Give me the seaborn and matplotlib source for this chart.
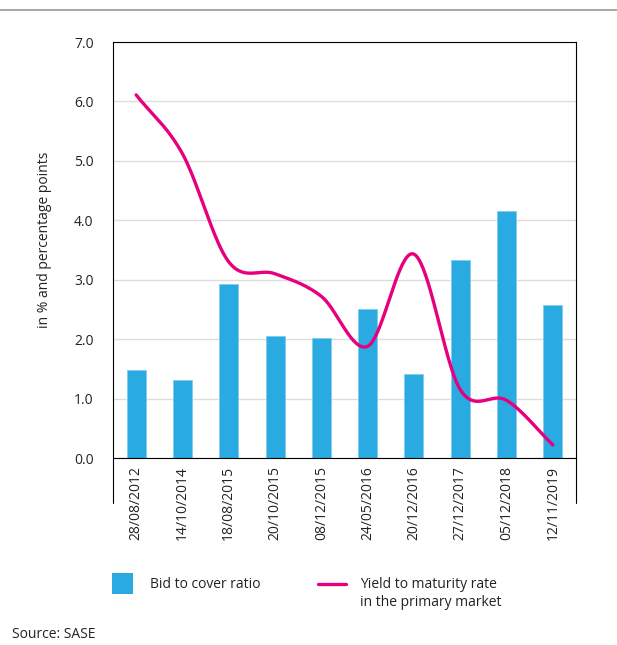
import numpy as np
import pandas as pd
import matplotlib
matplotlib.use("Agg")
import matplotlib.pyplot as plt
import seaborn as sns
from matplotlib.patches import Rectangle
from matplotlib.lines import Line2D

dates = ["28/08/2012", "14/10/2014", "18/08/2015", "20/10/2015", "08/12/2015",
         "24/05/2016", "20/12/2016", "27/12/2017", "05/12/2018", "12/11/2019"]
bid_to_cover = [1.48, 1.32, 2.92, 2.05, 2.02, 2.51, 1.41, 3.33, 4.16, 2.58]
yield_rate = [6.11, 5.12, 3.30, 3.10, 2.72, 1.88, 3.43, 1.15, 0.97, 0.22]
yticks = [0.0, 1.0, 2.0, 3.0, 4.0, 5.0, 6.0, 7.0]

sns.set_theme(style="white")
plt.rcParams['font.family'] = ['Open Sans', 'DejaVu Sans']

BLUE = "#29ABE2"
PINK = "#E6007E"
TXT = "#222222"

fig = plt.figure(figsize=(6.17, 6.45), dpi=100)
ax = fig.add_axes([113/617, 1-458/645, (576-113)/617, (458-42)/645])

df = pd.DataFrame({"date": dates, "bid": bid_to_cover})
sns.barplot(data=df, x="date", y="bid", color=BLUE, width=0.41, ax=ax,
            saturation=1, edgecolor="#7FCBEF", linewidth=0.6, zorder=2)

# smooth curve (Catmull-Rom) through the yield values, drawn on category positions
def catmull_rom(xs, ys, n=40):
    xs = np.asarray(xs, float); ys = np.asarray(ys, float)
    px = np.concatenate([[2*xs[0]-xs[1]], xs, [2*xs[-1]-xs[-2]]])
    py = np.concatenate([[2*ys[0]-ys[1]], ys, [2*ys[-1]-ys[-2]]])
    ox, oy = [], []
    for i in range(1, len(px)-2):
        t = np.linspace(0, 1, n, endpoint=(i == len(px)-3))
        for P, out in ((px, ox), (py, oy)):
            p0, p1, p2, p3 = P[i-1], P[i], P[i+1], P[i+2]
            out.extend(0.5*((2*p1) + (-p0+p2)*t + (2*p0-5*p1+4*p2-p3)*t**2 + (-p0+3*p1-3*p2+p3)*t**3))
    return np.array(ox), np.array(oy)

sx, sy = catmull_rom(np.arange(len(dates)), yield_rate)
ax.plot(sx, sy, color=PINK, lw=2.4, solid_capstyle="round", zorder=3)

ax.set_ylim(0, 7)
ax.set_xlim(-0.5, len(dates)-0.5)
ax.set_yticks(yticks)
ax.set_yticklabels([f"{v:.1f}" for v in yticks], fontsize=10, color=TXT)
ax.tick_params(axis="y", length=0, pad=14)
ax.tick_params(axis="x", length=0, pad=6, labelrotation=90, labelsize=10, labelcolor=TXT)
ax.yaxis.grid(True, color="#DDDDDD", lw=1.0, zorder=0)
ax.set_axisbelow(True)
ax.set_xlabel("")
ax.set_ylabel("")
fig.text(45/617, 1-240/645, "in % and percentage points", rotation=90, fontsize=10,
         color=TXT, ha="center", va="center")
for s in ax.spines.values():
    s.set_visible(True)
    s.set_color("black")
    s.set_linewidth(0.8)

# extended outer tick lines below the axis
ext = (503-458)/(458-42)
for xa in (0, 1):
    ax.plot([xa, xa], [0, -ext], transform=ax.transAxes, color="black", lw=0.8, clip_on=False)

# top rule line
fig.add_artist(Line2D([0, 1], [1-10/645, 1-10/645], transform=fig.transFigure, color="#999999", lw=1.2))

# legend
W, H = 617, 645
fig.add_artist(Rectangle((112/W, 1-594/H), 21/W, 21/H, transform=fig.transFigure,
                         facecolor=BLUE, edgecolor="none"))
fig.text(150/W, 1-584/H, "Bid to cover ratio", fontsize=10, color=TXT, va="center", ha="left")
fig.add_artist(Line2D([318/W, 346/W], [1-584/H, 1-584/H], transform=fig.transFigure,
                      color=PINK, lw=2.4))
fig.text(360/W, 1-584/H, "Yield to maturity rate", fontsize=10, color=TXT, va="center", ha="left")
fig.text(360/W, 1-603/H, "in the primary market", fontsize=10, color=TXT, va="center", ha="left")

fig.text(12/W, 1-634/H, "Source: SASE", fontsize=10, color=TXT, va="center", ha="left")

fig.savefig("out.png", dpi=100)
